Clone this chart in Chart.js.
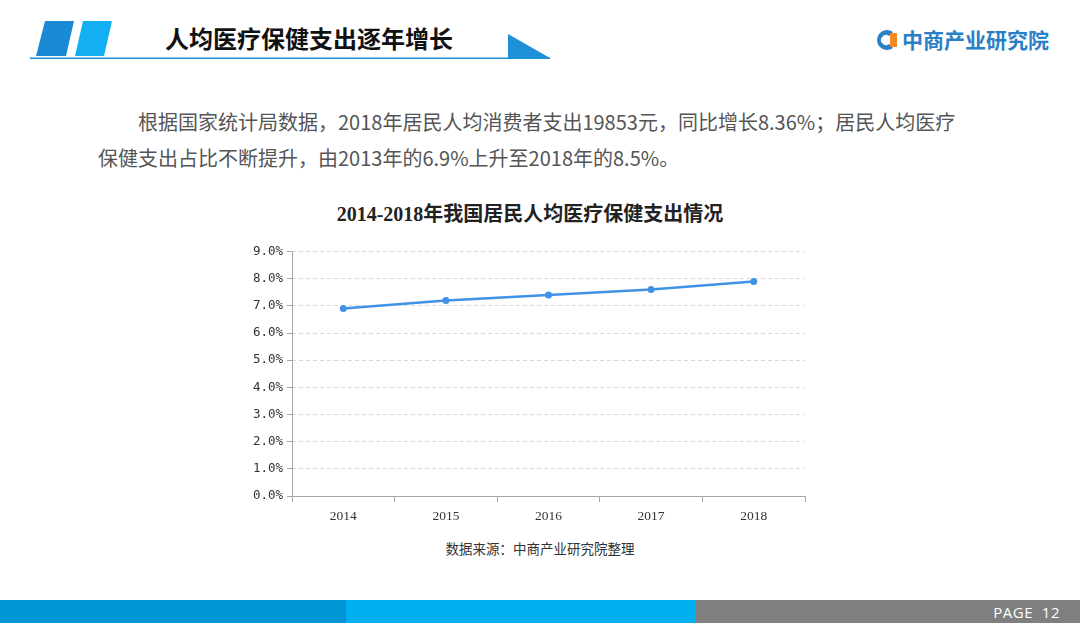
<!DOCTYPE html>
<html>
<head>
<meta charset="utf-8">
<script src="https://cdn.jsdelivr.net/npm/chart.js@4/dist/chart.umd.min.js"></script>
<style>
  html, body { margin:0; padding:0; background:#fff; }
  body { width:1080px; height:623px; position:relative; overflow:hidden; font-family:"Noto Sans CJK SC", sans-serif; }
  .abs { position:absolute; }
  .shape1 { left:0; top:0; width:1080px; height:623px; }
  #title { left:165px; top:22px; font-size:24px; font-weight:bold; color:#111; letter-spacing:0px; line-height:32px; }
  #logo { left:902px; top:24px; font-size:21px; font-weight:bold; color:#2a7fc6; line-height:30px; }
  #para { left:98px; top:104px; width:920px; font-size:20px; color:#555; line-height:36px; white-space:nowrap; }
  #ctitle { left:230px; top:200px; width:600px; text-align:center; font-family:"Liberation Serif","Noto Sans CJK SC",serif; font-weight:bold; font-size:20px; color:#222; line-height:28px; }
  #source { left:340px; top:538px; width:400px; text-align:center; font-size:13.5px; color:#333; line-height:20px; }
  #page { left:960px; top:602px; width:100px; text-align:right; font-family:"Open Sans","Liberation Sans",sans-serif; font-size:15px; color:#fff; line-height:20px; letter-spacing:0.5px; }
  #chartBox { left:220px; top:240px; width:600px; height:286px; }
</style>
</head>
<body>
<svg class="abs shape1" width="1080" height="623">
  <polygon points="45,21 74,21 66,56 36,56" fill="#1a8ad4"/>
  <polygon points="83,21 112,21 104,56 75,56" fill="#12b0f2"/>
  <rect x="30" y="57.5" width="520" height="1.5" fill="#1e90d8"/>
  <polygon points="508,34 508,58 550,58" fill="#1e90d8"/>
  <path d="M893,32 A10,10 0 1 0 893,48 L889,44 A5,5 0 1 1 889,36 Z" fill="#2a7fc6"/>
  <path d="M890,33 L897,33 L897,47 L890,47 Z" fill="#f08a24"/>
  <rect x="0" y="600" width="346" height="23" fill="#0096d6"/>
  <rect x="346" y="600" width="349" height="23" fill="#00b0f0"/>
  <rect x="695" y="600" width="385" height="23" fill="#7f7f7f"/>
</svg>
<div id="title" class="abs">人均医疗保健支出逐年增长</div>
<div id="logo" class="abs">中商产业研究院</div>
<div id="para" class="abs">&emsp;&emsp;根据国家统计局数据，2018年居民人均消费者支出19853元，同比增长8.36%；居民人均医疗<br>保健支出占比不断提升，由2013年的6.9%上升至2018年的8.5%。</div>
<div id="ctitle" class="abs">2014-2018年我国居民人均医疗保健支出情况</div>
<div id="chartBox" class="abs"><canvas id="c" width="600" height="286"></canvas></div>
<div id="source" class="abs">数据来源：中商产业研究院整理</div>
<div id="page" class="abs">PAGE&nbsp;&nbsp;12</div>
<script>
const years = ["2014", "2015", "2016", "2017", "2018"];
const shareValues = [6.9, 7.2, 7.4, 7.6, 7.9];
const yTickMax = 9;
const yTickStep = 1;

const solidYAxis = {
  id: 'solidYAxis',
  afterDraw(chart) {
    const a = chart.chartArea, c = chart.ctx;
    c.save();
    c.strokeStyle = '#a6a6a6';
    c.lineWidth = 1;
    c.beginPath();
    c.moveTo(Math.round(a.left) + 0.5, a.top);
    c.lineTo(Math.round(a.left) + 0.5, a.bottom);
    c.stroke();
    c.restore();
  }
};

const ctx = document.getElementById('c').getContext('2d');
new Chart(ctx, {
  type: 'line',
  data: {
    labels: years,
    datasets: [{
      label: '人均医疗保健支出占比',
      data: shareValues,
      borderColor: '#3f92e6',
      backgroundColor: '#3f92e6',
      borderWidth: 2.5,
      pointRadius: 3.5,
      pointBackgroundColor: '#3f92e6',
      pointBorderWidth: 0,
      tension: 0,
      fill: false
    }]
  },
  plugins: [solidYAxis],
  options: {
    responsive: false,
    animation: false,
    layout: { padding: { left: 10, right: 15, top: 10, bottom: 0 } },
    plugins: { legend: { display: false }, tooltip: { enabled: false }, title: { display: false } },
    scales: {
      x: {
        offset: true,
        afterFit: s => { s.height = 30; },
        grid: { offset: true, drawOnChartArea: false, drawTicks: true, tickLength: 6, color: '#a6a6a6' },
        border: { display: true, color: '#a6a6a6', width: 1 },
        ticks: { color: '#333', font: { family: 'Liberation Serif', size: 13.5 }, padding: 6 }
      },
      y: {
        min: 0, max: yTickMax,
        afterFit: s => { s.width = 62; },
        ticks: { stepSize: yTickStep, color: '#333', font: { family: 'DejaVu Sans Mono', size: 12.5 }, padding: 4,
                 callback: v => v.toFixed(1) + '%' },
        grid: { color: '#d9d9d9', drawTicks: true, tickLength: 5, tickColor: '#a6a6a6' },
        border: { display: false, dash: [4, 3] }
      }
    }
  }
});
</script>
</body>
</html>
